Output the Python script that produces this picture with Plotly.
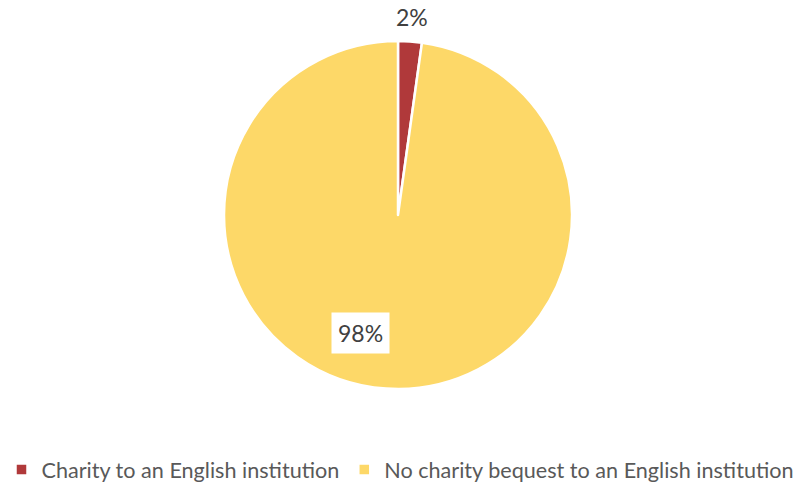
import math
import plotly.graph_objects as go

labels = ["Charity to an English institution", "No charity bequest to an English institution"]
values = [2.2, 97.8]
colors = ["#B0393A", "#FDD868"]

W, H = 801, 488
cx, cy, R = 398, 215, 174

fig = go.Figure(go.Pie(
    labels=labels, values=values, sort=False, direction="clockwise", rotation=0,
    marker=dict(colors=colors, line=dict(color="white", width=2.5)),
    textinfo="none", hoverinfo="label+percent",
    domain=dict(x=[(cx - R) / W, (cx + R) / W], y=[1 - (cy + R) / H, 1 - (cy - R) / H]),
))

total = sum(values)
pcts = [v / total * 100 for v in values]
# label placement from slice geometry
start = 0.0
anns = []
for i, p in enumerate(pcts):
    mid = start + p / 2 * 3.6
    start += p * 3.6
    if i == 0:
        k, ang, bg = 1.14, mid, "rgba(0,0,0,0)"
    else:
        k, ang, bg = 0.71, mid + 13.5, "white"
    x = cx + math.sin(math.radians(ang)) * R * k
    y = cy - math.cos(math.radians(ang)) * R * k
    anns.append(dict(x=x / W, y=1 - y / H, xref="paper", yref="paper",
                     xanchor="center", yanchor="middle",
                     text=f"{round(p)}%", showarrow=False, bgcolor=bg,
                     borderpad=6, font=dict(size=23, color="#404040", family="Lato")))

fig.update_layout(
    width=W, height=H, margin=dict(l=0, r=0, t=0, b=0, autoexpand=False),
    paper_bgcolor="white", plot_bgcolor="white",
    annotations=anns,
    showlegend=True,
    legend=dict(orientation="h", x=0.5, xanchor="center", y=1 - 470 / H, yanchor="middle",
                font=dict(size=21.6, color="#595959", family="Lato"), itemwidth=30,
                tracegroupgap=0),
)
fig.write_html("out.html")
